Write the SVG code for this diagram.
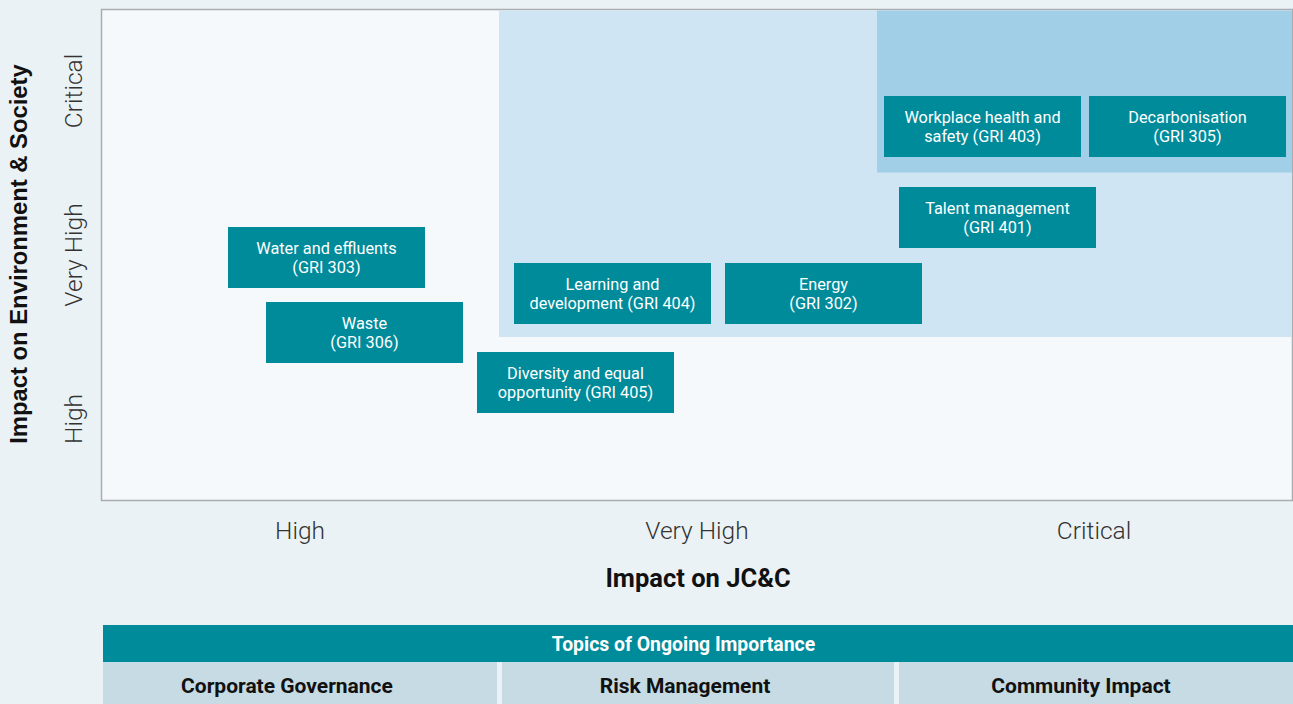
<svg xmlns="http://www.w3.org/2000/svg" width="1293" height="704" viewBox="0 0 1293 704">
<style>
.box{fill:#008b9b}
.bt{font-family:Roboto,"Liberation Sans",sans-serif;font-size:16.3px;fill:#ffffff;text-anchor:middle}
.tick{font-family:Roboto,"Liberation Sans",sans-serif;font-weight:300;font-size:24.5px;fill:#333333;text-anchor:middle}
.title{font-weight:700;fill:#111111;text-anchor:middle}
.cell{fill:#c6dbe3}
.ct{font-family:Roboto,"Liberation Sans",sans-serif;font-weight:700;font-size:21px;fill:#111111;text-anchor:middle}
</style>
<rect x="0" y="0" width="1293" height="704" fill="#ebf2f5"/>
<g id="plot">
<rect x="101.5" y="9.5" width="1191" height="491" fill="#f5f9fc" stroke="#a9adb0" stroke-width="1.5"/>
<rect x="499" y="10.5" width="793" height="326.5" fill="#cfe5f3"/>
<rect x="877" y="10.5" width="415" height="162" fill="#a1cfe8"/>
</g>
<g id="axes">
<text class="tick" x="300" y="539">High</text>
<text class="tick" x="697" y="539">Very High</text>
<text class="tick" x="1094" y="539">Critical</text>
<text class="tick" transform="translate(82,91) rotate(-90)">Critical</text>
<text class="tick" transform="translate(82,255) rotate(-90)">Very High</text>
<text class="tick" transform="translate(82,419) rotate(-90)">High</text>
<text class="title" font-family="Roboto,'Liberation Sans',sans-serif" font-size="25.5" x="698" y="587">Impact on JC&amp;C</text>
<text class="title" font-family="'Liberation Sans',Arial,sans-serif" font-size="23.8" transform="translate(27,254) rotate(-90)">Impact on Environment &amp; Society</text>
</g>
<g id="n-workplace"><rect class="box" x="884" y="96" width="197" height="61"/><text class="bt" x="982.5" y="123">Workplace health and</text><text class="bt" x="982.5" y="142">safety (GRI 403)</text></g>
<g id="n-decarb"><rect class="box" x="1089" y="96" width="197" height="61"/><text class="bt" x="1187.5" y="123">Decarbonisation</text><text class="bt" x="1187.5" y="142">(GRI 305)</text></g>
<g id="n-talent"><rect class="box" x="899" y="187" width="197" height="61"/><text class="bt" x="997.5" y="214">Talent management</text><text class="bt" x="997.5" y="233">(GRI 401)</text></g>
<g id="n-learning"><rect class="box" x="514" y="263" width="197" height="61"/><text class="bt" x="612.5" y="290">Learning and</text><text class="bt" x="612.5" y="309">development (GRI 404)</text></g>
<g id="n-energy"><rect class="box" x="725" y="263" width="197" height="61"/><text class="bt" x="823.5" y="290">Energy</text><text class="bt" x="823.5" y="309">(GRI 302)</text></g>
<g id="n-water"><rect class="box" x="228" y="227" width="197" height="61"/><text class="bt" x="326.5" y="254">Water and effluents</text><text class="bt" x="326.5" y="273">(GRI 303)</text></g>
<g id="n-waste"><rect class="box" x="266" y="302" width="197" height="61"/><text class="bt" x="364.5" y="329">Waste</text><text class="bt" x="364.5" y="348">(GRI 306)</text></g>
<g id="n-diversity"><rect class="box" x="477" y="352" width="197" height="61"/><text class="bt" x="575.5" y="379">Diversity and equal</text><text class="bt" x="575.5" y="398">opportunity (GRI 405)</text></g>
<g id="table">
<rect x="103" y="625" width="1190" height="37" fill="#008b9b"/>
<text class="ct" x="683.5" y="651" style="fill:#ffffff;font-size:19.4px">Topics of Ongoing Importance</text>
<rect class="cell" x="103" y="662" width="394" height="42"/>
<rect class="cell" x="502" y="662" width="392" height="42"/>
<rect class="cell" x="899" y="662" width="394" height="42"/>
<text class="ct" x="287" y="693">Corporate Governance</text>
<text class="ct" x="685" y="693">Risk Management</text>
<text class="ct" x="1081" y="693">Community Impact</text>
</g>
</svg>
